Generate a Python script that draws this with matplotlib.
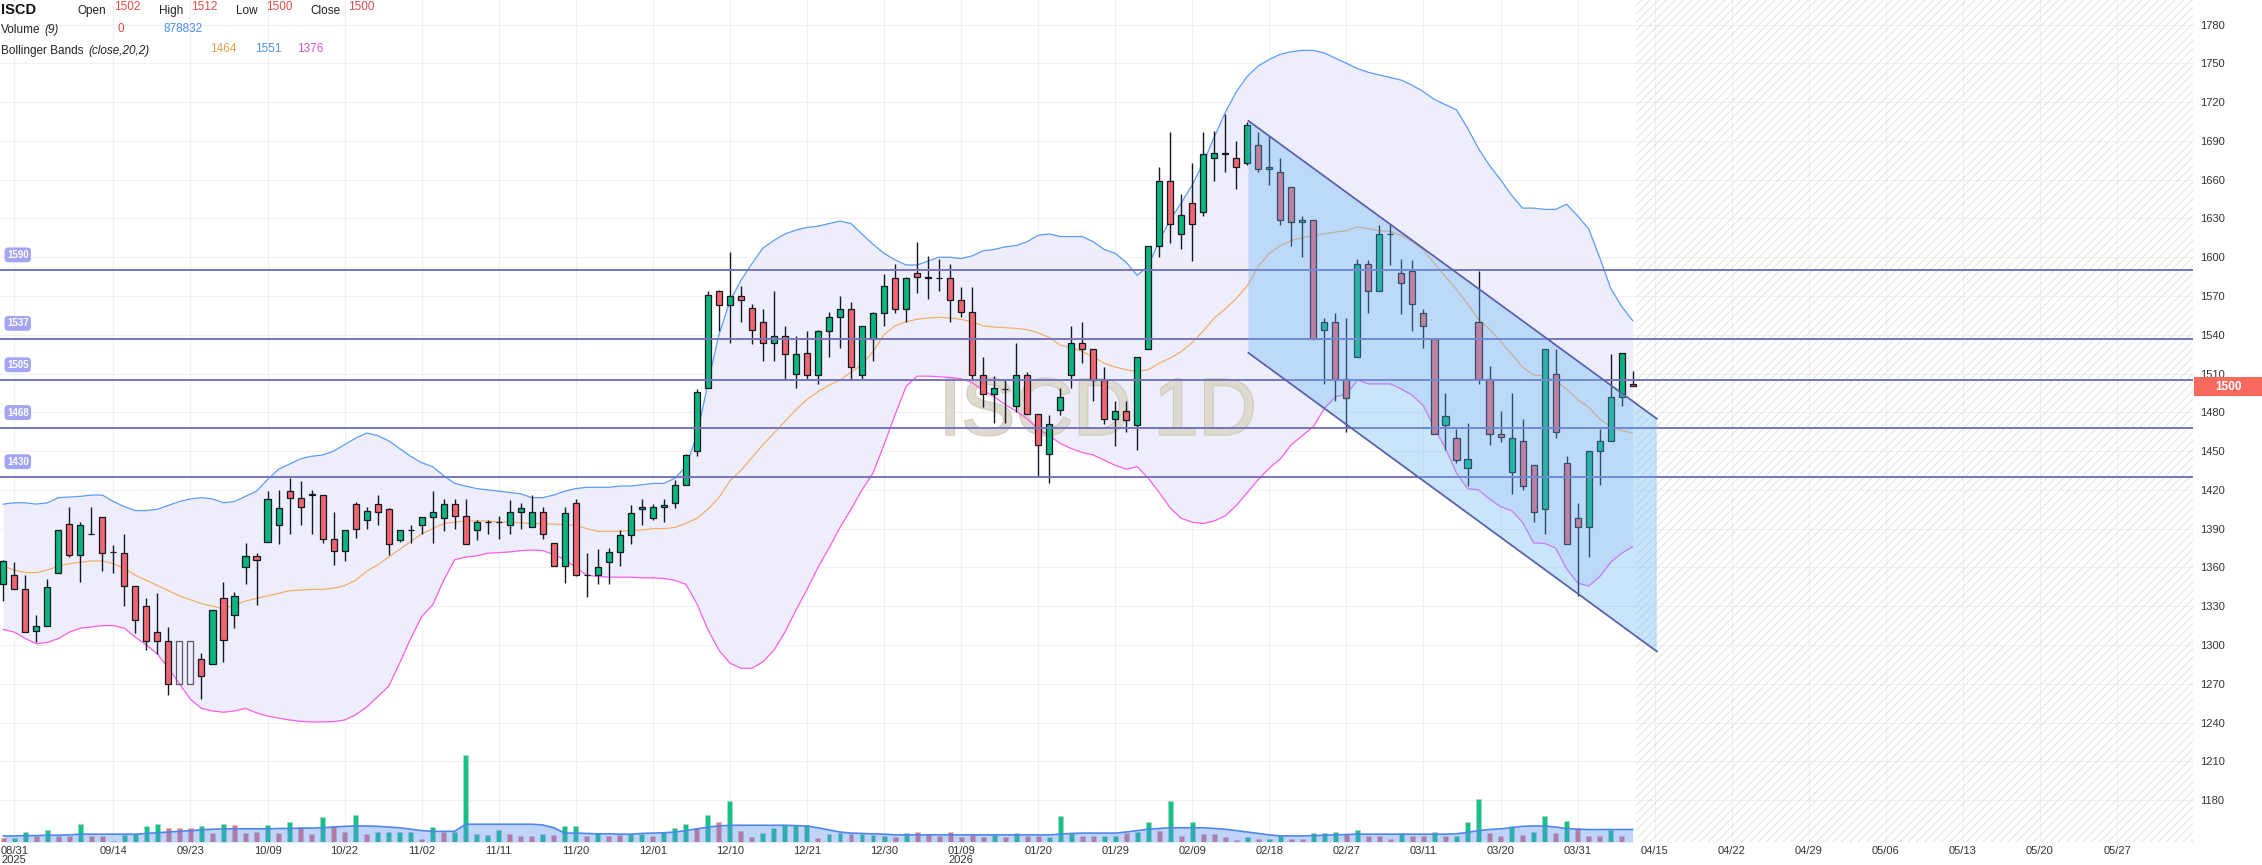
import numpy as np
import matplotlib
matplotlib.use("Agg")
import matplotlib.pyplot as plt
import matplotlib.patheffects as pe
from matplotlib.patches import Polygon, Rectangle

W, H = 2262, 865

# daily candles (bar index 0 .. 148)
opens = [1347, 1354, 1343, 1311, 1315, 1356, 1394, 1370, 1386, 1399,
         1372, 1371, 1346, 1330, 1310, 1303, 1303, 1303, 1289, 1285,
         1336, 1323, 1360, 1369, 1380, 1393, 1419, 1414, 1416, 1416,
         1382, 1373, 1409, 1397, 1409, 1405, 1381, 1389, 1393, 1399,
         1398, 1409, 1400, 1389, 1395, 1395, 1393, 1403, 1391, 1403,
         1379, 1361, 1410, 1354, 1354, 1364, 1372, 1385, 1405, 1398,
         1407, 1410, 1424, 1450, 1499, 1574, 1563, 1570, 1561, 1550,
         1534, 1539, 1510, 1526, 1509, 1543, 1554, 1560, 1509, 1537,
         1557, 1584, 1560, 1588, 1585, 1584, 1584, 1567, 1558, 1509,
         1494, 1498, 1485, 1509, 1479, 1448, 1482, 1509, 1534, 1529,
         1505, 1475, 1481, 1470, 1529, 1609, 1659, 1618, 1642, 1635,
         1677, 1681, 1677, 1673, 1687, 1668, 1666, 1654, 1627, 1629,
         1544, 1550, 1506, 1523, 1595, 1574, 1618, 1588, 1589, 1557,
         1537, 1470, 1460, 1437, 1550, 1506, 1463, 1434, 1458, 1439,
         1405, 1510, 1441, 1398, 1391, 1450, 1458, 1492, 1502]
highs = [1366, 1364, 1354, 1323, 1351, 1389, 1407, 1395, 1407, 1399,
         1377, 1386, 1346, 1336, 1340, 1314, 1303, 1303, 1294, 1327,
         1349, 1341, 1379, 1371, 1419, 1420, 1429, 1427, 1420, 1416,
         1403, 1389, 1411, 1407, 1416, 1406, 1389, 1393, 1399, 1419,
         1413, 1413, 1413, 1397, 1397, 1400, 1412, 1410, 1416, 1407,
         1379, 1407, 1413, 1371, 1374, 1375, 1389, 1408, 1413, 1409,
         1413, 1428, 1448, 1498, 1574, 1575, 1604, 1578, 1564, 1560,
         1574, 1547, 1539, 1543, 1544, 1558, 1570, 1565, 1547, 1558,
         1587, 1595, 1585, 1612, 1601, 1599, 1595, 1577, 1577, 1523,
         1508, 1506, 1534, 1511, 1479, 1478, 1499, 1547, 1550, 1529,
         1515, 1489, 1489, 1523, 1609, 1670, 1697, 1649, 1673, 1697,
         1698, 1711, 1690, 1705, 1697, 1694, 1677, 1654, 1632, 1629,
         1553, 1557, 1553, 1599, 1598, 1625, 1626, 1599, 1598, 1560,
         1537, 1495, 1467, 1472, 1589, 1516, 1481, 1495, 1475, 1439,
         1529, 1529, 1446, 1410, 1450, 1467, 1525, 1526, 1512]
lows = [1334, 1343, 1310, 1302, 1315, 1356, 1368, 1349, 1386, 1357,
        1356, 1330, 1309, 1296, 1293, 1261, 1270, 1270, 1258, 1285,
        1287, 1313, 1347, 1331, 1380, 1378, 1386, 1393, 1386, 1379,
        1362, 1365, 1383, 1390, 1393, 1370, 1380, 1379, 1386, 1379,
        1388, 1390, 1378, 1381, 1386, 1382, 1386, 1390, 1391, 1382,
        1361, 1348, 1353, 1337, 1347, 1347, 1361, 1378, 1393, 1397,
        1395, 1406, 1424, 1446, 1499, 1543, 1534, 1550, 1533, 1520,
        1520, 1506, 1499, 1505, 1502, 1523, 1530, 1505, 1506, 1520,
        1547, 1557, 1550, 1572, 1568, 1574, 1550, 1554, 1506, 1484,
        1472, 1472, 1480, 1479, 1430, 1425, 1478, 1499, 1518, 1489,
        1471, 1454, 1465, 1451, 1529, 1600, 1611, 1606, 1597, 1632,
        1659, 1666, 1653, 1671, 1666, 1656, 1625, 1609, 1600, 1537,
        1502, 1489, 1465, 1523, 1557, 1574, 1594, 1556, 1543, 1530,
        1463, 1451, 1441, 1423, 1502, 1455, 1457, 1417, 1420, 1395,
        1386, 1460, 1378, 1338, 1368, 1424, 1458, 1485, 1500]
closes = [1365, 1343, 1310, 1315, 1345, 1389, 1370, 1393, 1386, 1371,
          1372, 1346, 1319, 1303, 1303, 1270, 1270, 1270, 1276, 1327,
          1304, 1338, 1369, 1366, 1413, 1406, 1414, 1407, 1417, 1382,
          1373, 1389, 1390, 1404, 1403, 1378, 1389, 1389, 1399, 1403,
          1409, 1400, 1378, 1395, 1395, 1395, 1403, 1406, 1403, 1386,
          1361, 1402, 1354, 1354, 1360, 1372, 1385, 1402, 1407, 1407,
          1408, 1424, 1447, 1496, 1571, 1563, 1570, 1567, 1544, 1534,
          1539, 1525, 1525, 1509, 1543, 1554, 1560, 1515, 1547, 1557,
          1578, 1560, 1584, 1585, 1584, 1584, 1567, 1558, 1509, 1494,
          1499, 1498, 1509, 1479, 1455, 1471, 1492, 1534, 1529, 1505,
          1475, 1481, 1474, 1523, 1609, 1659, 1626, 1633, 1626, 1680,
          1681, 1680, 1670, 1702, 1668, 1670, 1629, 1627, 1629, 1537,
          1550, 1506, 1491, 1595, 1574, 1618, 1618, 1580, 1564, 1547,
          1463, 1477, 1443, 1444, 1506, 1463, 1461, 1460, 1423, 1403,
          1529, 1465, 1378, 1391, 1450, 1458, 1492, 1526, 1500]
hollow_bars = [16, 17]   # empty (no-trade) candles drawn as outlines

# volume in thousands of shares, its colour (1 = green) and the 9-day average
volume = [250, 250, 725, 425, 850, 425, 425, 1300, 425, 425,
          100, 500, 550, 1100, 1300, 975, 975, 975, 1100, 625,
          1300, 1225, 625, 725, 1175, 625, 1375, 1025, 550, 1725,
          1100, 675, 1925, 550, 725, 725, 725, 725, 225, 1050,
          675, 725, 6100, 550, 500, 875, 550, 425, 425, 550,
          500, 1100, 1100, 425, 625, 425, 500, 550, 550, 425,
          725, 975, 1300, 1000, 1925, 1375, 2875, 750, 375, 625,
          1000, 1175, 1175, 1175, 300, 550, 625, 550, 550, 500,
          425, 375, 625, 725, 550, 450, 725, 375, 550, 375,
          500, 375, 625, 425, 425, 375, 1800, 625, 425, 425,
          425, 425, 625, 725, 1375, 800, 2875, 425, 1375, 550,
          550, 350, 175, 350, 225, 225, 425, 225, 225, 625,
          625, 725, 550, 850, 425, 425, 225, 625, 425, 425,
          725, 425, 425, 1375, 3000, 625, 425, 1100, 500, 725,
          1800, 625, 1475, 975, 425, 425, 850, 425, 0]
volume_up = [0, 1, 1, 0, 1, 0, 0, 1, 0, 0,
             0, 1, 1, 1, 1, 0, 0, 0, 1, 0,
             1, 0, 0, 0, 1, 0, 1, 0, 0, 1,
             0, 0, 1, 0, 1, 1, 1, 1, 0, 1,
             0, 1, 1, 1, 1, 1, 0, 0, 0, 1,
             0, 1, 1, 0, 1, 0, 0, 1, 1, 0,
             1, 1, 1, 0, 1, 0, 1, 0, 0, 1,
             1, 1, 1, 1, 0, 1, 1, 0, 1, 1,
             1, 0, 1, 0, 0, 0, 0, 0, 0, 0,
             1, 0, 1, 0, 0, 1, 1, 1, 0, 0,
             1, 1, 0, 1, 1, 0, 1, 0, 1, 0,
             0, 0, 0, 1, 0, 1, 1, 0, 0, 1,
             1, 1, 0, 1, 0, 0, 0, 1, 0, 0,
             1, 0, 1, 1, 1, 0, 0, 1, 0, 1,
             1, 0, 1, 0, 0, 0, 1, 0, 0]
volume_ma = [425, 425, 450, 450, 475, 475, 500, 550, 550, 550,
             550, 550, 550, 600, 650, 700, 750, 800, 850, 900,
             925, 925, 925, 925, 925, 950, 950, 975, 975, 1000,
             1050, 1100, 1125, 1125, 1100, 1050, 1000, 900, 800, 750,
             750, 750, 1250, 1250, 1250, 1250, 1250, 1250, 1250, 1200,
             1000, 625, 625, 600, 575, 575, 550, 550, 600, 625,
             650, 700, 800, 925, 1050, 1125, 1175, 1175, 1175, 1175,
             1175, 1175, 1150, 1125, 1000, 850, 700, 625, 600, 575,
             550, 500, 500, 500, 500, 500, 500, 500, 500, 500,
             500, 500, 500, 500, 500, 500, 550, 600, 625, 625,
             625, 625, 700, 800, 900, 950, 1000, 1000, 1000, 1000,
             950, 900, 800, 700, 600, 500, 425, 425, 425, 450,
             475, 500, 525, 550, 550, 550, 550, 550, 550, 550,
             550, 550, 575, 675, 800, 875, 925, 1000, 1100, 1125,
             1125, 1050, 950, 900, 875, 875, 875, 875, 879]

# Bollinger bands (close, 20, 2) as drawn
bb_upper = [1409, 1410, 1410, 1409, 1410, 1414, 1414.5, 1415, 1416, 1416,
            1411, 1407, 1404, 1404, 1405, 1408, 1411, 1413, 1414, 1413,
            1410, 1411, 1415, 1419, 1428, 1436, 1440, 1444, 1446, 1447,
            1450, 1455, 1460, 1464, 1462, 1458, 1452, 1446, 1441, 1438,
            1431, 1425, 1423, 1421, 1420, 1419, 1418, 1417, 1414, 1414,
            1416, 1419, 1421, 1422, 1422, 1422, 1423, 1423, 1424, 1425,
            1425, 1429, 1438, 1462, 1502, 1540, 1566, 1582, 1595, 1607,
            1613, 1618, 1621, 1623, 1624, 1626, 1628, 1626, 1618, 1610,
            1603, 1598, 1594, 1594, 1597, 1600, 1600, 1599, 1601, 1605,
            1606, 1608, 1609, 1612, 1617, 1618, 1616, 1616, 1616, 1612,
            1606, 1603, 1596, 1586, 1593, 1613, 1629, 1642, 1656, 1673,
            1693, 1712, 1728, 1740, 1748, 1753, 1757, 1759, 1760, 1760,
            1758, 1754, 1750, 1746, 1743, 1741, 1739, 1737, 1733, 1728,
            1722, 1718, 1714, 1700, 1684, 1671, 1660, 1648, 1638, 1638,
            1637, 1637, 1641, 1632, 1622, 1600, 1576, 1562, 1551]
bb_mid = [1361, 1358, 1356, 1356, 1358, 1361, 1363, 1364, 1365, 1365,
          1363, 1359, 1354, 1350, 1346, 1342, 1338, 1335, 1332, 1330,
          1328, 1331, 1334, 1336, 1338, 1340, 1342, 1342.5, 1343, 1343,
          1344, 1346, 1350, 1357, 1362, 1368, 1374, 1380, 1386, 1390,
          1394, 1395, 1396, 1396, 1396, 1395, 1395, 1394.5, 1394, 1394,
          1393.5, 1393, 1392.5, 1390, 1388, 1388, 1388, 1388.5, 1389, 1390,
          1390, 1391, 1394, 1398, 1405, 1414, 1427, 1435, 1445, 1455,
          1464, 1473, 1482, 1490, 1496, 1501, 1505, 1511, 1517, 1527,
          1540, 1547, 1550, 1552, 1553, 1553.5, 1553, 1552, 1550, 1547,
          1546, 1545.5, 1545, 1544, 1541.5, 1538, 1532, 1530, 1527, 1523,
          1518, 1515, 1513, 1511.5, 1513, 1518, 1522, 1527, 1534, 1543,
          1553, 1560, 1568, 1578, 1593, 1603, 1609, 1613, 1615, 1617,
          1618, 1619.5, 1620.5, 1623.5, 1622, 1620.5, 1620, 1617, 1612, 1605.5,
          1595, 1585, 1575, 1564, 1552, 1544, 1535, 1525, 1515, 1509,
          1508, 1504, 1498, 1490, 1484, 1475, 1469, 1466, 1464]
bb_lower = [1312, 1310, 1305, 1301, 1302, 1305, 1310, 1313, 1314, 1315,
            1315, 1313, 1306, 1300, 1293, 1282, 1270, 1258, 1251, 1249,
            1248, 1249, 1251, 1247.5, 1245, 1243.5, 1242, 1241, 1240.5, 1240.5,
            1240.7, 1242, 1246, 1252, 1260, 1268, 1286, 1305, 1322, 1331,
            1350, 1366, 1368, 1369, 1371, 1371.5, 1372, 1373, 1373.5, 1373,
            1370, 1366, 1360, 1354, 1353, 1352.5, 1352.5, 1352.5, 1352, 1352,
            1351.5, 1350, 1347, 1332, 1312, 1296, 1286, 1282, 1282, 1287,
            1296, 1310, 1327, 1343, 1360, 1375, 1391, 1405, 1420, 1433,
            1455, 1478, 1500, 1508, 1508, 1507.5, 1507, 1506, 1503, 1497,
            1492, 1486, 1481, 1475, 1467, 1462, 1456, 1452, 1449, 1447,
            1443, 1439, 1436, 1438, 1429, 1418, 1406, 1398, 1395, 1394,
            1396, 1400, 1408, 1418, 1428, 1437, 1444, 1455, 1462, 1469,
            1483, 1492, 1494, 1505, 1502, 1502, 1502, 1498, 1493, 1485,
            1468, 1452, 1433, 1421, 1420, 1413, 1407, 1404, 1395, 1379,
            1378.6, 1375, 1359, 1348, 1345.6, 1352.8, 1364, 1371, 1376]

# horizontal levels and the descending channel (drawing-tool anchors)
levels = [1590, 1537, 1505, 1468, 1430]
channel_x = [113.1, 150.2]
channel_top = [1705.5, 1475]
channel_bot = [1526, 1295]

tick_idx = [1, 10, 17, 24, 31, 38, 45, 52, 59, 66, 73, 80, 87, 94, 101, 108,
            115, 122, 129, 136, 143, 150, 157, 164, 171, 178, 185, 192]
tick_lbl = ['08/31', '09/14', '09/23', '10/09', '10/22', '11/02', '11/11', '11/20',
            '12/01', '12/10', '12/21', '12/30', '01/09', '01/20', '01/29', '02/09',
            '02/18', '02/27', '03/11', '03/20', '03/31', '04/15', '04/22', '04/29',
            '05/06', '05/13', '05/20', '05/27']
price_ticks = list(range(1180, 1781, 30))

plt.rcParams['font.family'] = ['Liberation Sans', 'DejaVu Sans']
plt.rcParams['hatch.linewidth'] = 0.7

GREEN = '#0ab67c'
RED = '#f0666f'
EDGE = '#141826'

fig = plt.figure(figsize=(W / 100, H / 100), dpi=100)
ax = fig.add_axes([0, 23 / H, 2193 / W, 842 / H])
axv = ax.twinx()   # volume overlay (twinx moves ax ticks left, so set them after)
x0, x1 = -0.3, 198.9
y0, y1 = 1147.6, 1799
ax.set_xlim(x0, x1)
ax.set_ylim(y0, y1)
for s in ax.spines.values():
    s.set_visible(False)

ax.set_yticks(price_ticks)
ax.set_xticks(tick_idx)
ax.set_xticklabels(tick_lbl)
ax.grid(True, color='#f0f0f0', lw=0.8)
ax.set_axisbelow(True)
ax.yaxis.tick_right()
ax.tick_params(axis='y', length=0, pad=5, labelsize=8, labelcolor='#333333')
ax.tick_params(axis='x', length=0, pad=3, labelsize=8, labelcolor='#333333')

x = np.arange(len(closes))
o = np.array(opens, float)
c = np.array(closes, float)
h = np.array(highs, float)
l = np.array(lows, float)

# future area
last = len(closes) - 1
ax.add_patch(Rectangle((last + 0.3, y0), x1 - last - 0.3, y1 - y0, hatch='////',
                       fill=False, edgecolor='#e2e2e2', lw=0, zorder=0.6))

# bollinger bands
ax.fill_between(x, bb_lower, bb_upper, color='#ededfc', lw=0, zorder=1)
ax.plot(x, bb_upper, color='#5a9cf8', lw=0.9, zorder=2)
ax.plot(x, bb_mid, color='#f3b06b', lw=0.9, zorder=2)
ax.plot(x, bb_lower, color='#fb5ee8', lw=0.9, zorder=2)

# watermark
ax.text(99.4, 1479, 'ISCD 1D', fontsize=58, color='#dedad0', ha='center', va='center',
        zorder=1.5, family='Liberation Sans',
        path_effects=[pe.withStroke(linewidth=1.6, foreground='#cfcabd')])

# candles
normal = np.array([i not in hollow_bars for i in x])
up = c >= o
cols = np.where(up, GREEN, RED)
ax.vlines(x[normal], l[normal], h[normal], color=EDGE, lw=1.0, zorder=3)
ax.bar(x[normal], np.abs(c - o)[normal], bottom=np.minimum(o, c)[normal], width=0.55,
       color=cols[normal], edgecolor=EDGE, lw=0.9, zorder=3.5)
hb = np.array(hollow_bars)
ax.bar(hb, np.abs(c - o)[hb], bottom=np.minimum(o, c)[hb], width=0.55,
       fill=False, edgecolor='#5a5a66', lw=0.9, zorder=3.5)

# level lines with labels
for lv in levels:
    ax.axhline(lv, color='#7575bb', lw=1.4, zorder=4.5)
    ax.annotate(str(lv), xy=(0, lv), xycoords=('axes fraction', 'data'),
                xytext=(5, 11), textcoords='offset points', ha='left', va='center',
                fontsize=7, fontweight='bold', color='white', zorder=7,
                bbox=dict(boxstyle='round,pad=0.25,rounding_size=0.4', fc='#a4a4f4', ec='none'))

# descending channel
ax.add_patch(Polygon([(channel_x[0], channel_top[0]), (channel_x[1], channel_top[1]),
                      (channel_x[1], channel_bot[1]), (channel_x[0], channel_bot[0])],
                     closed=True, fc='#64b5f6', alpha=0.35, lw=0, zorder=5))
ax.plot(channel_x, channel_top, color='#5c62aa', lw=1.3, zorder=6)
ax.plot(channel_x, channel_bot, color='#5c62aa', lw=1.3, zorder=6)

# volume overlay
axv.set_ylim(0, 842 * 70.3)
axv.set_yticks([])
for s in axv.spines.values():
    s.set_visible(False)
vcols = np.where(np.array(volume_up) == 1, '#10c588', '#e8707a')
axv.bar(x, volume, width=0.45, color=vcols, edgecolor='#c8c8c8', lw=0.4, zorder=1)
axv.fill_between(x, 0, volume_ma, color='#5a8ef0', alpha=0.38, lw=0, zorder=2)
axv.plot(x, volume_ma, color='#4d86ee', lw=1.2, zorder=3)


def t(px, py, s, **kw):
    fig.text(px / W, 1 - py / H, s, va='baseline', **kw)


# year labels
fig.text(14.3 / W, 1 - 855 / H, '2025', ha='center', va='top', fontsize=8, color='#333333')
fig.text(960.9 / W, 1 - 855 / H, '2026', ha='center', va='top', fontsize=8, color='#333333')

# legend block
LAB = '#222222'
t(1, 14, 'ISCD', fontsize=10.5, fontweight='bold', color='#111111')
for px, s in [(78, 'Open'), (159, 'High'), (236, 'Low'), (310, 'Close')]:
    t(px, 14, s, fontsize=8.5, color=LAB)
for px, s in [(114, '1502'), (191, '1512'), (266, '1500'), (348, '1500')]:
    t(px, 10.5, s, fontsize=8.5, color='#e04b4b')
t(1, 33, 'Volume', fontsize=8.5, color=LAB)
t(44, 33, '(9)', fontsize=8.5, color=LAB, style='italic')
t(118, 32, '0', fontsize=8.5, color='#e04b4b')
t(163, 32, '878832', fontsize=8.5, color='#4a8df0')
t(1, 54, 'Bollinger Bands', fontsize=8.5, color=LAB)
t(88, 54, '(close,20,2)', fontsize=8.5, color=LAB, style='italic')
t(210, 52.5, '1464', fontsize=8.5, color='#e0a050')
t(255, 52.5, '1551', fontsize=8.5, color='#4a8df0')
t(297, 52.5, '1376', fontsize=8.5, color='#e050d0')

# last price tag
fig.add_artist(Rectangle((2194 / W, 1 - 396 / H), 68 / W, 19 / H, transform=fig.transFigure,
                         fc='#f76a5e', ec='none'))
fig.text(2228 / W, 1 - 386.5 / H, '1500', ha='center', va='center', fontsize=8.5,
         fontweight='bold', color='white')

fig.savefig('out.png', dpi=100)
